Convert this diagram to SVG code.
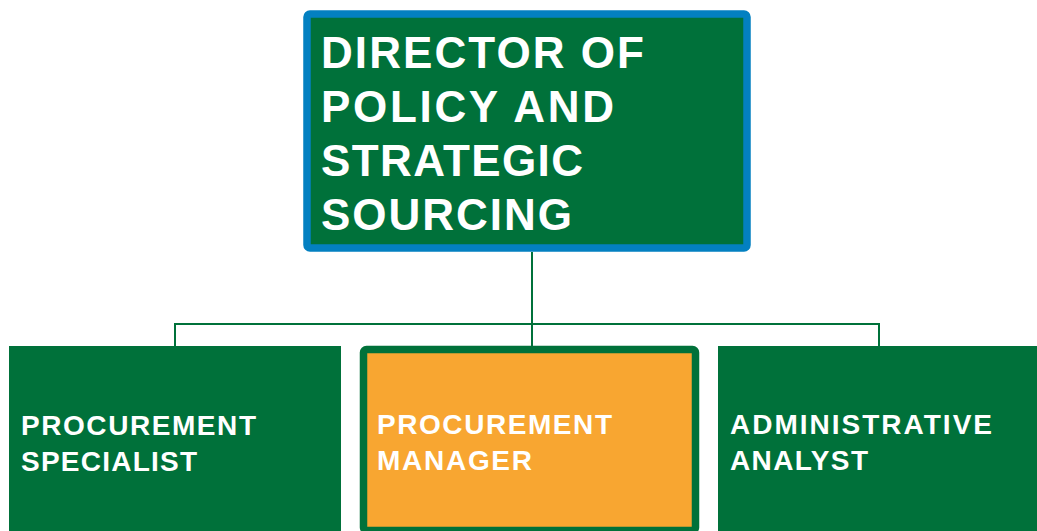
<svg xmlns="http://www.w3.org/2000/svg" width="1037" height="531" viewBox="0 0 1037 531">
  <style>
    .t { font-family: "Liberation Sans", Arial, sans-serif; font-weight: bold; fill: #ffffff; }
    .big { font-size: 44px; }
    .small { font-size: 28px; }
    .conn { stroke: #00713A; stroke-width: 2; fill: none; }
  </style>
  <rect width="1037" height="531" fill="#ffffff"/>
  <g id="connectors">
    <path class="conn" d="M532 252 V346 M175 324 H879 M175 323 V346 M879 323 V346"/>
  </g>
  <g id="director">
    <rect x="307" y="14" width="440" height="234" rx="3" fill="#00713A" stroke="#0380C1" stroke-width="7.5"/>
    <text class="t big" x="321" y="68" textLength="323" lengthAdjust="spacing">DIRECTOR OF</text>
    <text class="t big" x="321" y="122" textLength="293" lengthAdjust="spacing">POLICY AND</text>
    <text class="t big" x="321" y="176" textLength="262" lengthAdjust="spacing">STRATEGIC</text>
    <text class="t big" x="321" y="230" textLength="251" lengthAdjust="spacing">SOURCING</text>
  </g>
  <g id="specialist">
    <rect x="9" y="346" width="332" height="190" fill="#00713A"/>
    <text class="t small" x="21" y="435" textLength="235" lengthAdjust="spacing">PROCUREMENT</text>
    <text class="t small" x="21" y="471" textLength="176" lengthAdjust="spacing">SPECIALIST</text>
  </g>
  <g id="manager">
    <rect x="363.5" y="349.5" width="332" height="181" rx="3" fill="#F8A631" stroke="#00713A" stroke-width="7.5"/>
    <text class="t small" x="377" y="434" textLength="235" lengthAdjust="spacing">PROCUREMENT</text>
    <text class="t small" x="377" y="470" textLength="155" lengthAdjust="spacing">MANAGER</text>
  </g>
  <g id="analyst">
    <rect x="718" y="346" width="330" height="190" fill="#00713A"/>
    <text class="t small" x="730" y="434" textLength="262" lengthAdjust="spacing">ADMINISTRATIVE</text>
    <text class="t small" x="730" y="470" textLength="138" lengthAdjust="spacing">ANALYST</text>
  </g>
</svg>
